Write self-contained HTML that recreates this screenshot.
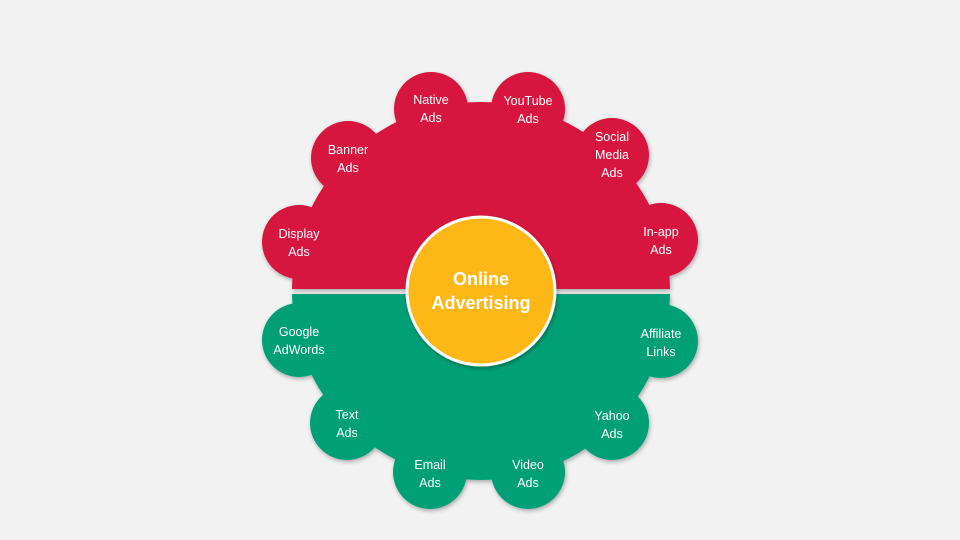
<!DOCTYPE html>
<html><head><style>
html,body{margin:0;padding:0;background:#f2f2f2;}
svg{display:block;}
text{font-family:"Liberation Sans",sans-serif;fill:#fff;text-anchor:middle;}
</style></head><body>
<svg width="960" height="540" viewBox="0 0 960 540">
<defs>
<clipPath id="top"><rect x="0" y="0" width="960" height="289"/></clipPath>
<clipPath id="bot"><rect x="0" y="294" width="960" height="246"/></clipPath>
<filter id="sh" x="-20%" y="-20%" width="140%" height="140%"><feDropShadow dx="1" dy="2" stdDeviation="2" flood-color="#000" flood-opacity="0.3"/></filter>
</defs>
<g filter="url(#sh)">
<g clip-path="url(#top)" fill="#d7143f">
<circle cx="481" cy="291" r="189"/>
<circle cx="299" cy="242" r="37"/><circle cx="348" cy="158" r="37"/><circle cx="431" cy="109" r="37"/>
<circle cx="528" cy="109" r="37"/><circle cx="612" cy="155" r="37"/><circle cx="661" cy="240" r="37"/>
</g>
<g clip-path="url(#bot)" fill="#06a077">
<circle cx="481" cy="291" r="189"/>
<circle cx="299" cy="340" r="37"/><circle cx="347" cy="423" r="37"/><circle cx="430" cy="472" r="37"/>
<circle cx="528" cy="472" r="37"/><circle cx="612" cy="423" r="37"/><circle cx="661" cy="341" r="37"/>
</g>
</g>
<circle cx="481" cy="291" r="74" fill="#fdb714" stroke="#fff" stroke-width="3" filter="url(#sh)"/>
<text x="481" y="285" font-size="18" font-weight="bold">Online</text>
<text x="481" y="309" font-size="18" font-weight="bold">Advertising</text>
<g font-size="12.5">
<text x="299" y="238">Display</text><text x="299" y="256">Ads</text>
<text x="348" y="154">Banner</text><text x="348" y="172">Ads</text>
<text x="431" y="104">Native</text><text x="431" y="122">Ads</text>
<text x="528" y="105">YouTube</text><text x="528" y="123">Ads</text>
<text x="612" y="141">Social</text><text x="612" y="159">Media</text><text x="612" y="177">Ads</text>
<text x="661" y="236">In-app</text><text x="661" y="254">Ads</text>
<text x="299" y="336">Google</text><text x="299" y="354">AdWords</text>
<text x="347" y="419">Text</text><text x="347" y="437">Ads</text>
<text x="430" y="469">Email</text><text x="430" y="487">Ads</text>
<text x="528" y="469">Video</text><text x="528" y="487">Ads</text>
<text x="612" y="420">Yahoo</text><text x="612" y="438">Ads</text>
<text x="661" y="338">Affiliate</text><text x="661" y="356">Links</text>
</g>
</svg>
</body></html>
